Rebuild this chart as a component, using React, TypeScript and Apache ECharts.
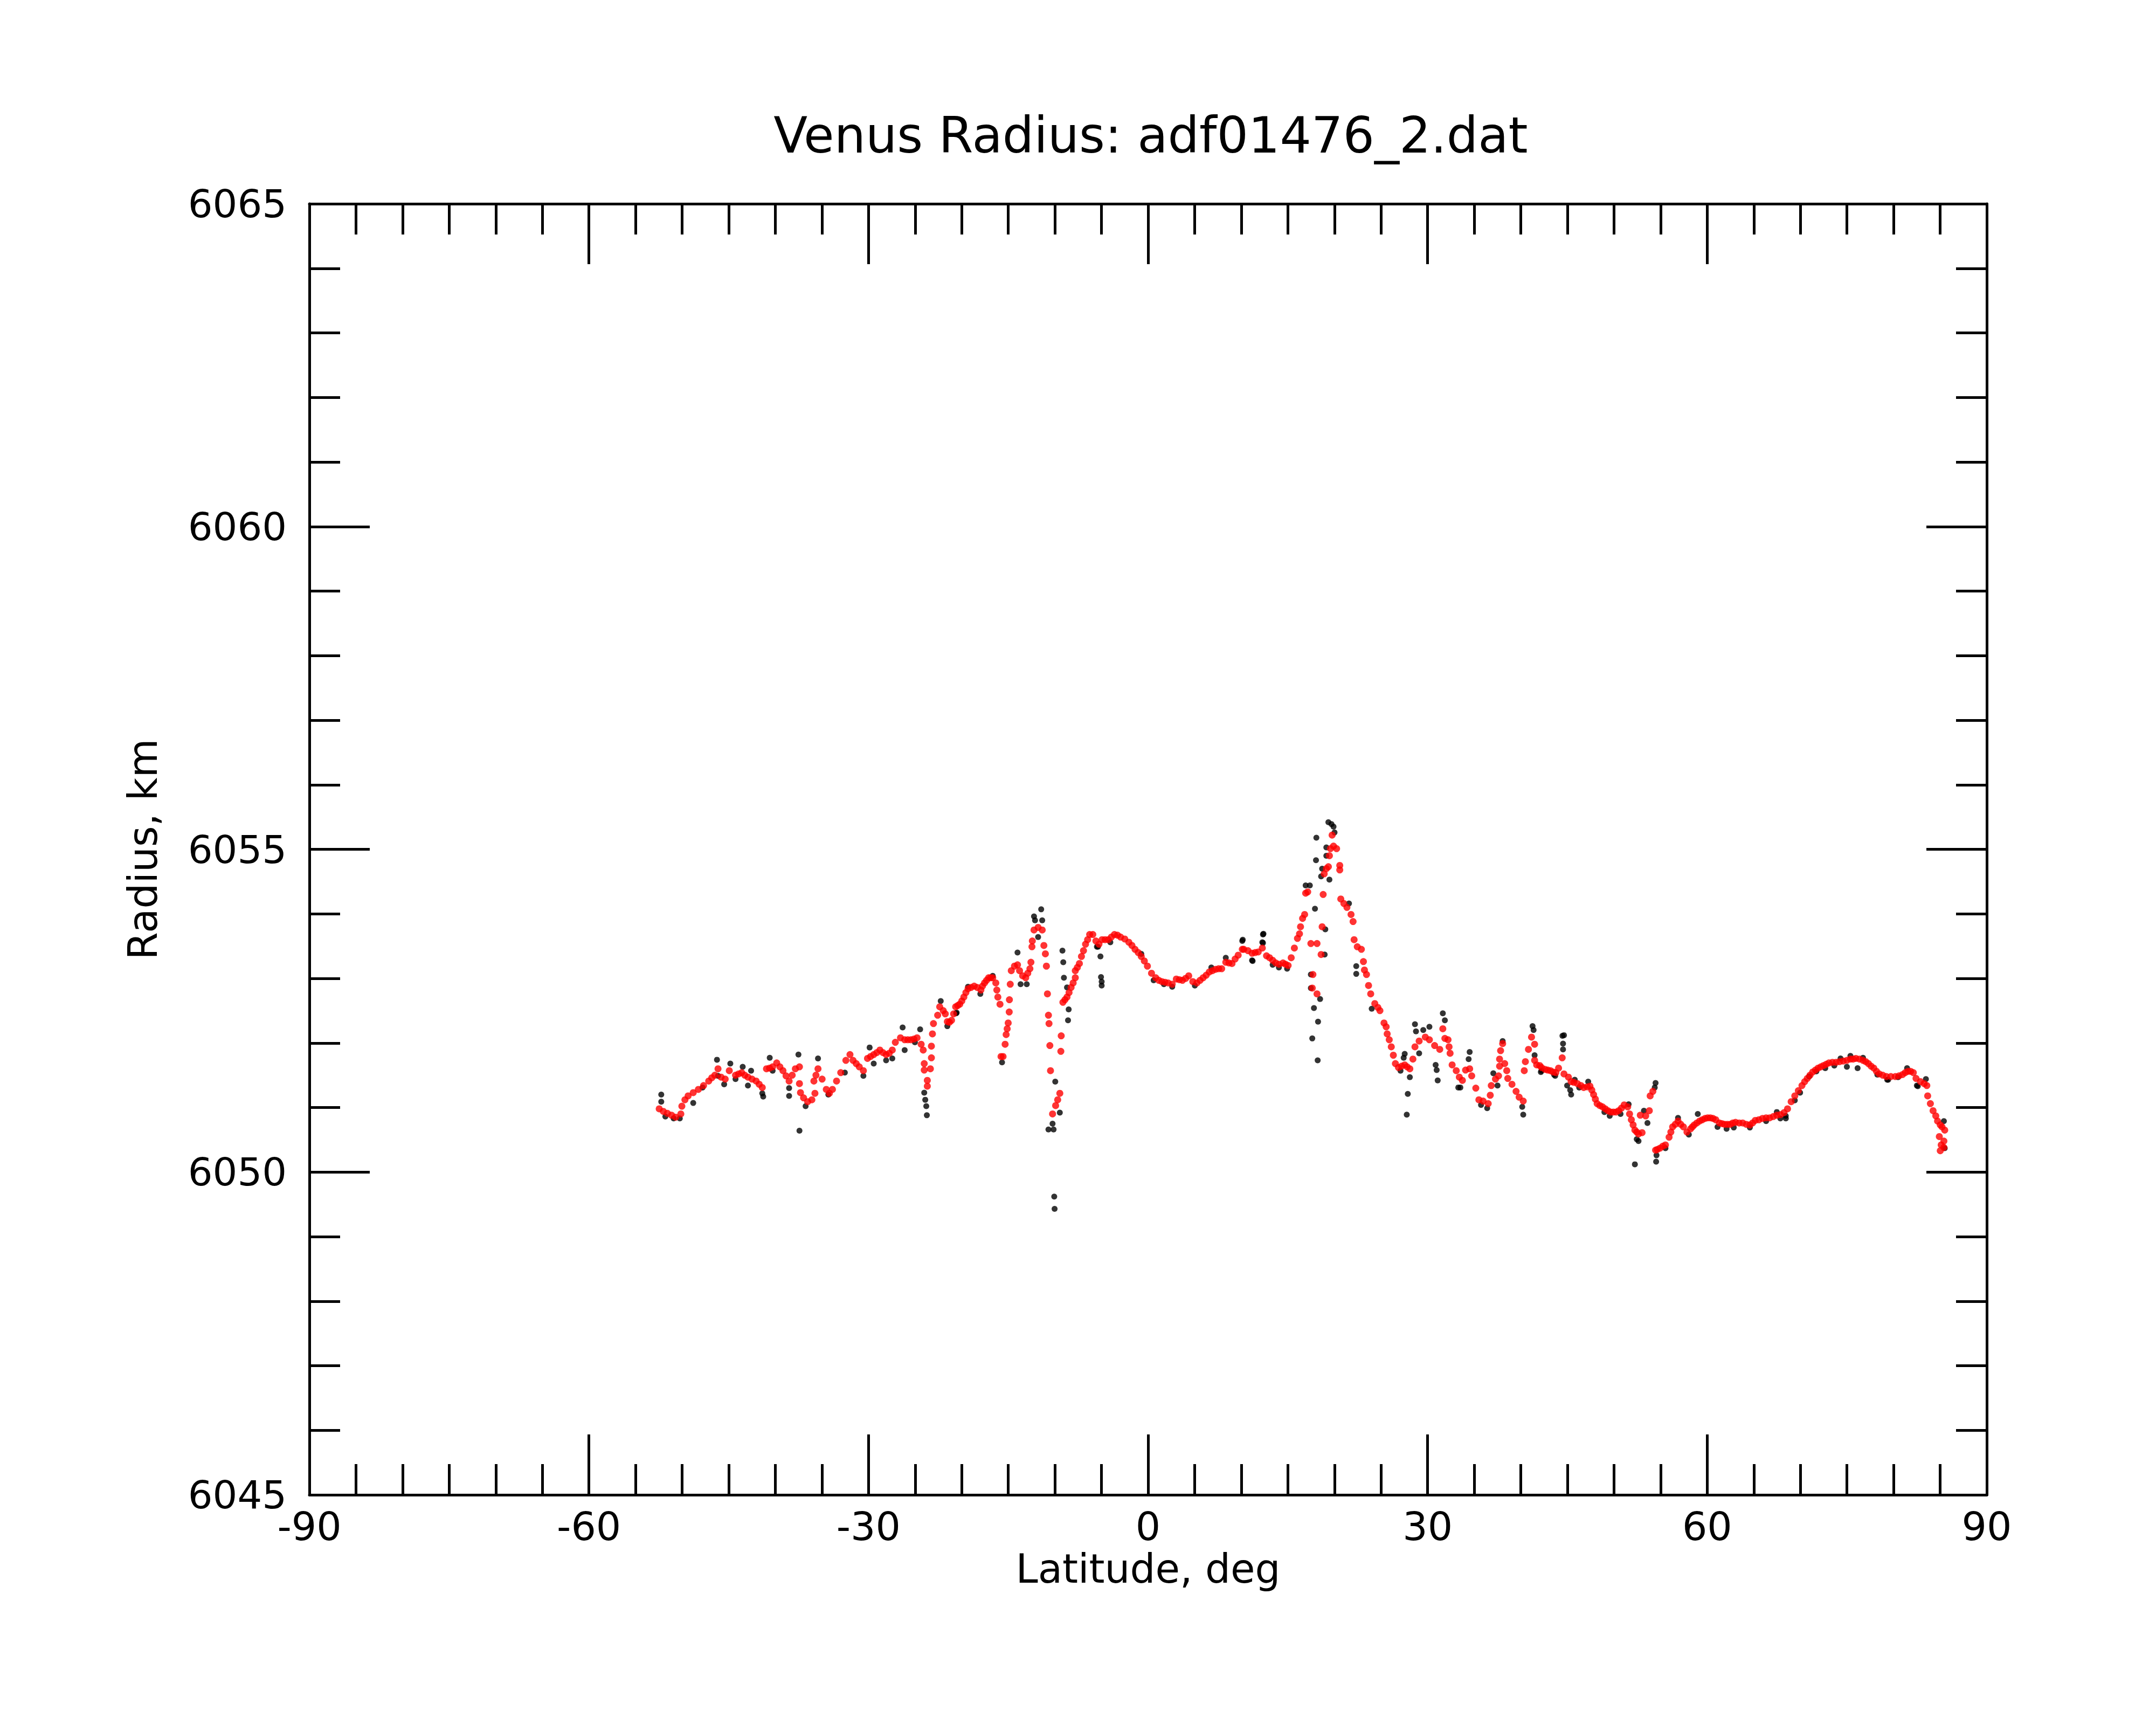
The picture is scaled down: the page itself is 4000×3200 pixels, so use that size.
import React, { useEffect, useRef } from "react";
import * as echarts from "echarts";

// Red (corrected) radius samples: latitude (deg) and radius (km)
const redLat = [
  -52.46, -52.02, -51.58, -51.13, -50.69, -50.14, -50.03, -49.7, -49.36, -48.81, -48.26, -47.7, -47.15, -46.82,
  -46.49, -46.15, -45.82, -45.38, -44.94, -44.27, -43.94, -43.61, -43.28, -42.94, -42.5, -42.06, -41.73, -41.4,
  -40.95, -40.62, -40.29, -39.85, -39.51, -39.18, -38.85, -38.52, -38.19, -37.85, -37.41, -37.41, -37.3, -36.97,
  -36.53, -36.08, -35.86, -35.75, -35.64, -35.42, -34.98, -34.53, -34.2, -33.87, -33.43, -32.98, -32.43, -31.99,
  -31.66, -31.32, -30.99, -30.55, -30.11, -29.78, -29.44, -29.11, -28.78, -28.45, -28.11, -27.78, -27.45, -27.12,
  -26.57, -26.12, -25.79, -25.46, -25.13, -24.79, -24.35, -24.13, -24.02, -24.02, -23.69, -23.69, -23.36, -23.25,
  -23.25, -23.14, -23.03, -22.58, -22.36, -21.98, -21.76, -21.54, -21.32, -21.09, -20.87, -20.65, -20.43, -20.21,
  -19.99, -19.77, -19.55, -19.32, -19.0, -18.66, -18.33, -17.94, -17.77, -17.55, -17.33, -17.11, -16.89, -16.67,
  -16.34, -16.23, -16.12, -15.89, -15.78, -15.56, -15.34, -15.23, -15.12, -15.01, -14.9, -14.88, -14.79, -14.68,
  -14.34, -14.01, -13.79, -13.46, -13.13, -12.91, -12.68, -12.57, -12.46, -12.42, -12.24, -11.8, -11.36, -11.18,
  -11.02, -10.91, -10.8, -10.69, -10.63, -10.54, -10.47, -10.25, -9.92, -9.7, -9.47, -9.36, -9.32, -9.14,
  -8.92, -8.7, -8.48, -8.26, -8.04, -7.81, -7.81, -7.59, -7.37, -7.15, -6.93, -6.71, -6.49, -6.27,
  -5.93, -5.6, -5.27, -4.94, -4.61, -4.27, -3.94, -3.61, -3.28, -2.95, -2.5, -2.06, -1.73, -1.4,
  -1.06, -0.73, -0.4, -0.07, 0.37, 0.82, 1.15, 1.48, 1.82, 2.15, 2.59, 3.03, 3.36, 3.69,
  4.03, 4.36, 4.8, 5.24, 5.58, 5.91, 6.24, 6.57, 6.9, 7.24, 7.57, 7.9, 8.34, 8.68,
  9.01, 9.34, 9.67, 10.11, 10.27, 10.72, 11.16, 11.49, 11.82, 12.26, 12.71, 13.04, 13.37, 13.7,
  14.04, 14.48, 14.74, 15.03, 15.36, 15.7, 16.03, 16.25, 16.36, 16.58, 16.8, 16.91, 17.13, 17.47,
  17.62, 17.69, 18.13, 18.13, 18.57, 18.68, 18.79, 18.9, 19.13, 19.35, 19.46, 19.57, 19.75, 19.9,
  20.23, 20.57, 20.57, 20.68, 21.01, 21.34, 21.78, 22.0, 22.11, 22.45, 22.89, 23.11, 23.22, 23.44,
  23.66, 23.89, 24.33, 24.66, 24.88, 25.32, 25.55, 25.66, 25.88, 26.1, 26.32, 26.54, 26.87, 27.21,
  27.54, 27.8, 28.09, 28.42, 28.64, 29.09, 29.75, 30.19, 30.75, 31.3, 31.63, 31.85, 32.19, 32.3,
  32.41, 32.63, 33.07, 33.4, 33.73, 34.07, 34.51, 34.73, 35.17, 35.5, 35.95, 36.5, 36.72, 36.83,
  37.28, 37.61, 37.72, 37.72, 37.83, 38.05, 38.27, 38.49, 38.6, 39.05, 39.49, 39.82, 40.26, 40.37,
  40.49, 40.82, 41.15, 41.48, 41.48, 41.7, 42.03, 42.22, 42.6, 42.89, 43.18, 43.47, 43.76, 44.05,
  44.44, 44.63, 45.11, 45.4, 45.69, 46.07, 46.46, 46.75, 47.13, 47.42, 47.62, 47.81, 48.0, 48.19,
  48.48, 48.77, 49.06, 49.35, 49.64, 49.93, 50.22, 50.51, 50.8, 51.09, 51.47, 51.67, 51.86, 52.05,
  52.24, 52.44, 52.63, 52.82, 53.01, 53.4, 53.79, 53.88, 54.17, 54.46, 54.65, 54.94, 55.23, 55.52,
  55.91, 56.1, 56.29, 56.58, 56.87, 57.16, 57.45, 57.83, 58.22, 58.41, 58.61, 58.89, 59.18, 59.47,
  59.76, 60.05, 60.34, 60.63, 60.92, 61.31, 61.59, 61.88, 62.17, 62.46, 62.75, 63.04, 63.43, 63.81,
  64.2, 64.58, 64.87, 65.16, 65.55, 65.93, 66.32, 66.7, 67.09, 67.47, 67.86, 68.24, 68.62, 69.01,
  69.4, 69.78, 70.17, 70.46, 70.74, 71.03, 71.32, 71.61, 71.9, 72.19, 72.48, 72.77, 73.06, 73.44,
  73.83, 74.21, 74.6, 74.99, 75.37, 75.66, 75.95, 76.34, 76.72, 77.01, 77.3, 77.59, 77.88, 78.17,
  78.46, 78.84, 79.23, 79.71, 80.19, 80.58, 80.96, 81.25, 81.54, 81.83, 82.12, 82.41, 82.89, 83.28,
  83.57, 83.66, 83.95, 84.24, 84.53, 84.72, 84.91, 85.01, 85.01, 85.11, 85.2, 85.4, 85.4, 85.49,
];
const redRadius = [
  6050.98, 6050.94, 6050.91, 6050.88, 6050.85, 6050.9, 6051.02, 6051.12, 6051.18, 6051.23, 6051.28, 6051.34, 6051.41, 6051.46,
  6051.5, 6051.6, 6051.47, 6051.44, 6051.57, 6051.5, 6051.52, 6051.54, 6051.5, 6051.47, 6051.44, 6051.41, 6051.36, 6051.31,
  6051.6, 6051.61, 6051.63, 6051.69, 6051.63, 6051.57, 6051.49, 6051.41, 6051.5, 6051.6, 6051.63, 6051.37, 6051.23, 6051.15,
  6051.09, 6051.12, 6051.41, 6051.22, 6051.5, 6051.6, 6051.44, 6051.28, 6051.22, 6051.28, 6051.41, 6051.54, 6051.73, 6051.82,
  6051.73, 6051.68, 6051.63, 6051.57, 6051.76, 6051.79, 6051.82, 6051.85, 6051.89, 6051.85, 6051.82, 6051.84, 6051.89, 6052.01,
  6052.08, 6052.05, 6052.05, 6052.05, 6052.06, 6052.08, 6051.98, 6051.89, 6051.68, 6051.58, 6051.42, 6051.33, 6051.6, 6051.77,
  6051.95, 6052.14, 6052.3, 6052.43, 6052.56, 6052.5, 6052.45, 6052.33, 6052.32, 6052.35, 6052.45, 6052.56, 6052.58, 6052.6,
  6052.65, 6052.71, 6052.78, 6052.84, 6052.86, 6052.88, 6052.86, 6052.82, 6052.88, 6052.93, 6052.97, 6053.01, 6053.01, 6053.01,
  6052.93, 6052.82, 6052.71, 6052.6, 6051.79, 6051.79, 6051.98, 6052.13, 6052.22, 6052.31, 6052.48, 6052.67, 6052.91, 6053.12,
  6053.19, 6053.21, 6053.12, 6053.04, 6053.01, 6053.08, 6053.15, 6053.25, 6053.49, 6053.58, 6053.75, 6053.79, 6053.75, 6053.51,
  6053.38, 6053.19, 6052.76, 6052.43, 6052.3, 6051.96, 6051.57, 6050.9, 6051.03, 6051.12, 6051.22, 6051.87, 6052.11, 6052.63,
  6052.67, 6052.71, 6052.78, 6052.86, 6052.93, 6053.01, 6053.12, 6053.17, 6053.23, 6053.34, 6053.43, 6053.53, 6053.6, 6053.68,
  6053.68, 6053.58, 6053.53, 6053.6, 6053.6, 6053.6, 6053.64, 6053.68, 6053.67, 6053.64, 6053.61, 6053.56, 6053.51, 6053.45,
  6053.4, 6053.34, 6053.27, 6053.19, 6053.08, 6053.01, 6052.97, 6052.95, 6052.94, 6052.93, 6052.91, 6052.99, 6052.98, 6052.97,
  6053.0, 6053.04, 6052.95, 6052.93, 6052.97, 6053.01, 6053.05, 6053.1, 6053.12, 6053.14, 6053.15, 6053.15, 6053.25, 6053.24,
  6053.23, 6053.3, 6053.36, 6053.45, 6053.45, 6053.43, 6053.39, 6053.4, 6053.41, 6053.47, 6053.35, 6053.32, 6053.28, 6053.24,
  6053.22, 6053.24, 6053.22, 6053.2, 6053.32, 6053.47, 6053.62, 6053.69, 6053.8, 6053.93, 6053.99, 6054.32, 6054.34, 6053.54,
  6052.85, 6053.06, 6053.54, 6052.76, 6053.37, 6053.8, 6054.3, 6054.62, 6054.7, 6054.73, 6054.9, 6055.01, 6055.22, 6055.05,
  6055.01, 6054.75, 6054.68, 6054.23, 6054.16, 6054.1, 6053.99, 6053.88, 6053.6, 6053.49, 6053.45, 6053.26, 6053.13, 6053.06,
  6052.89, 6052.76, 6052.61, 6052.55, 6052.5, 6052.31, 6052.25, 6052.14, 6052.05, 6051.94, 6051.81, 6051.68, 6051.62, 6051.64,
  6051.66, 6051.63, 6051.6, 6051.75, 6051.94, 6052.03, 6052.09, 6052.05, 6051.96, 6051.9, 6052.22, 6052.07, 6052.05, 6051.94,
  6051.84, 6051.66, 6051.57, 6051.47, 6051.42, 6051.58, 6051.6, 6051.49, 6051.3, 6051.12, 6051.1, 6051.06, 6051.19, 6051.34,
  6051.44, 6051.49, 6051.64, 6051.75, 6051.88, 6051.99, 6051.68, 6051.57, 6051.45, 6051.36, 6051.25, 6051.16, 6051.1, 6051.57,
  6051.71, 6051.9, 6052.09, 6051.98, 6051.73, 6051.66, 6051.65, 6051.62, 6051.59, 6051.58, 6051.57, 6051.55, 6051.54, 6051.61,
  6051.77, 6051.52, 6051.47, 6051.4, 6051.39, 6051.37, 6051.34, 6051.31, 6051.32, 6051.33, 6051.27, 6051.2, 6051.13, 6051.06,
  6051.03, 6051.01, 6050.98, 6050.95, 6050.93, 6050.93, 6050.93, 6050.95, 6050.99, 6051.04, 6051.01, 6050.9, 6050.81, 6050.73,
  6050.65, 6050.62, 6050.59, 6050.88, 6050.61, 6050.87, 6050.95, 6051.18, 6051.25, 6050.34, 6050.35, 6050.37, 6050.4, 6050.42,
  6050.54, 6050.62, 6050.7, 6050.74, 6050.79, 6050.74, 6050.7, 6050.62, 6050.67, 6050.7, 6050.73, 6050.76, 6050.79, 6050.81,
  6050.83, 6050.84, 6050.84, 6050.83, 6050.81, 6050.76, 6050.75, 6050.74, 6050.74, 6050.74, 6050.76, 6050.77, 6050.76, 6050.76,
  6050.74, 6050.73, 6050.76, 6050.8, 6050.81, 6050.83, 6050.84, 6050.84, 6050.86, 6050.88, 6050.89, 6050.92, 6050.98, 6051.09,
  6051.18, 6051.26, 6051.34, 6051.4, 6051.45, 6051.5, 6051.55, 6051.58, 6051.61, 6051.63, 6051.65, 6051.67, 6051.69, 6051.7,
  6051.7, 6051.71, 6051.72, 6051.73, 6051.75, 6051.75, 6051.76, 6051.75, 6051.73, 6051.71, 6051.68, 6051.64, 6051.61, 6051.56,
  6051.52, 6051.5, 6051.48, 6051.48, 6051.48, 6051.49, 6051.51, 6051.54, 6051.56, 6051.56, 6051.54, 6051.45, 6051.4, 6051.37,
  6051.34, 6051.18, 6051.06, 6050.95, 6050.87, 6050.79, 6050.55, 6050.73, 6050.33, 6050.42, 6050.7, 6050.48, 6050.38, 6050.65,
];

// Black (raw) radius samples
const blackLat = [
  -52.24, -52.24, -51.8, -50.91, -50.25, -48.81, -47.81, -46.26, -46.15, -45.49, -44.83, -44.27, -43.5, -42.94,
  -42.6, -41.4, -41.3, -40.6, -40.29, -38.52, -38.52, -37.52, -37.41, -36.75, -35.42, -34.31, -32.54, -30.55,
  -29.88, -29.44, -28.11, -27.45, -26.34, -26.12, -25.02, -24.46, -24.02, -23.91, -23.8, -23.74, -22.25, -21.54,
  -20.59, -20.54, -19.32, -18.0, -16.67, -15.67, -14.01, -13.68, -13.02, -12.24, -12.13, -11.8, -11.47, -11.36,
  -10.69, -10.25, -10.14, -10.07, -10.03, -9.96, -9.47, -9.19, -9.1, -9.03, -8.7, -8.59, -8.52, -5.49,
  -5.38, -5.11, -5.05, -4.98, -4.98, -4.05, -0.73, 0.6, 1.7, 2.59, 5.02, 6.79, 8.34, 10.11,
  10.16, 11.16, 11.22, 12.26, 12.33, 12.33, 12.38, 13.37, 14.04, 14.92, 16.91, 17.36, 17.47, 17.47,
  17.62, 17.8, 17.91, 18.02, 18.06, 18.2, 18.24, 18.46, 18.57, 18.68, 18.95, 19.02, 19.13, 19.13,
  19.35, 19.46, 19.68, 19.9, 20.01, 21.56, 22.34, 22.34, 24.0, 27.09, 27.43, 27.54, 27.76, 27.87,
  28.09, 28.64, 28.75, 29.09, 29.53, 30.19, 30.86, 30.97, 31.08, 31.63, 31.85, 33.29, 33.51, 34.4,
  34.51, 35.73, 36.39, 37.05, 37.5, 38.05, 40.15, 40.26, 41.26, 41.37, 41.48, 42.15, 42.22, 43.57,
  43.69, 44.47, 44.53, 44.53, 44.63, 44.97, 45.3, 45.4, 45.79, 46.27, 47.23, 48.97, 49.54, 50.7,
  51.57, 52.24, 52.44, 52.63, 53.21, 53.59, 54.37, 54.46, 54.52, 54.56, 55.52, 56.87, 58.03, 58.99,
  61.11, 62.08, 62.85, 64.58, 66.32, 67.47, 67.85, 68.43, 68.44, 69.4, 69.97, 70.94, 71.71, 72.67,
  73.64, 74.31, 74.99, 75.37, 76.14, 76.72, 78.26, 79.32, 79.42, 80.48, 81.45, 82.5, 82.6, 83.47,
  85.4, 85.49,
];
const blackRadius = [
  6051.2, 6051.09, 6050.86, 6050.83, 6050.83, 6051.07, 6051.31, 6051.74, 6051.49, 6051.36, 6051.68, 6051.44, 6051.63, 6051.34,
  6051.57, 6051.22, 6051.17, 6051.77, 6051.57, 6051.3, 6051.18, 6051.82, 6050.64, 6051.02, 6051.76, 6051.2, 6051.54, 6051.49,
  6051.93, 6051.68, 6051.73, 6051.76, 6052.24, 6051.89, 6052.01, 6052.21, 6051.23, 6051.12, 6051.02, 6050.88, 6052.65, 6052.26,
  6052.46, 6052.47, 6052.87, 6052.76, 6053.04, 6051.7, 6053.4, 6052.91, 6052.91, 6053.96, 6053.9, 6053.64, 6054.07, 6053.9,
  6050.66, 6050.75, 6050.66, 6049.62, 6049.43, 6051.4, 6050.92, 6053.43, 6053.25, 6053.01, 6052.86, 6052.35, 6052.52, 6053.49,
  6053.49, 6053.34, 6053.02, 6052.95, 6052.89, 6053.56, 6053.38, 6052.97, 6052.91, 6052.87, 6052.89, 6053.17, 6053.32, 6053.58,
  6053.6, 6053.28, 6053.27, 6053.56, 6053.68, 6053.55, 6053.69, 6053.21, 6053.17, 6053.15, 6054.44, 6054.44, 6053.06, 6052.85,
  6052.07, 6052.54, 6054.08, 6054.83, 6055.18, 6051.73, 6052.33, 6052.68, 6054.58, 6054.7, 6053.37, 6053.76, 6055.03, 6054.9,
  6055.42, 6054.53, 6055.39, 6055.35, 6055.26, 6054.16, 6053.19, 6053.07, 6052.53, 6051.57, 6051.77, 6051.83, 6050.89, 6051.21,
  6051.47, 6052.29, 6052.18, 6051.84, 6052.2, 6052.25, 6051.66, 6051.58, 6051.42, 6052.46, 6052.35, 6051.31, 6051.31, 6051.75,
  6051.86, 6051.04, 6050.99, 6051.53, 6051.34, 6052.03, 6051.01, 6050.89, 6052.26, 6052.2, 6051.81, 6051.55, 6051.57, 6051.51,
  6051.49, 6052.11, 6051.99, 6051.9, 6052.12, 6051.34, 6051.27, 6051.2, 6051.43, 6051.31, 6051.4, 6050.93, 6050.87, 6050.9,
  6051.05, 6050.12, 6050.51, 6050.48, 6050.95, 6050.76, 6051.31, 6051.38, 6050.16, 6050.26, 6050.37, 6050.84, 6050.58, 6050.9,
  6050.7, 6050.67, 6050.69, 6050.69, 6050.79, 6050.93, 6050.83, 6050.87, 6050.83, 6051.11, 6051.23, 6051.48, 6051.56, 6051.61,
  6051.65, 6051.76, 6051.63, 6051.8, 6051.61, 6051.77, 6051.51, 6051.43, 6051.43, 6051.47, 6051.61, 6051.34, 6051.33, 6051.44,
  6050.79, 6050.37,
];

const xTicks = [-90, -60, -30, 0, 30, 60, 90];
const yTicks = [6045, 6050, 6055, 6060, 6065];

const FONT = "DejaVu Sans";

export default function App() {
  const ref = useRef<HTMLDivElement>(null);

  useEffect(() => {
    document.body.style.margin = "0";
    if (!ref.current) return;
    const chart = echarts.init(ref.current, undefined, { renderer: "svg" });

    const lineStyle = { color: "#000", width: 5 };
    const tickCommon = {
      show: true,
      inside: true,
      length: 112,
      lineStyle,
    };
    const xBase = {
      type: "value" as const,
      min: xTicks[0],
      max: xTicks[xTicks.length - 1],
      interval: 30,
      splitLine: { show: false },
      axisLine: { show: true, onZero: false, lineStyle },
      axisTick: tickCommon,
      minorTick: { show: true, splitNumber: 6, length: 57, lineStyle },
    };
    const yBase = {
      type: "value" as const,
      min: yTicks[0],
      max: yTicks[yTicks.length - 1],
      interval: 5,
      splitLine: { show: false },
      axisLine: { show: true, onZero: false, lineStyle },
      axisTick: tickCommon,
      minorTick: { show: true, splitNumber: 5, length: 57, lineStyle },
    };

    const blackData = blackLat.map((v, i) => [v, blackRadius[i]]);
    const redData = redLat.map((v, i) => [v, redRadius[i]]);

    chart.setOption({
      animation: false,
      backgroundColor: "#fff",
      title: {
        text: "Venus Radius: adf01476_2.dat",
        left: 2130,
        top: 200,
        textAlign: "center",
        textStyle: { fontFamily: FONT, fontSize: 92, fontWeight: "normal", color: "#000" },
      },
      grid: { left: 574, right: 314, top: 378, bottom: 427, containLabel: false },
      xAxis: [
        {
          ...xBase,
          position: "bottom",
          name: "Latitude, deg",
          nameLocation: "middle",
          nameGap: 95,
          nameTextStyle: { fontFamily: FONT, fontSize: 74, color: "#000" },
          axisLabel: {
            show: true,
            margin: 22,
            fontFamily: FONT,
            fontSize: 73,
            color: "#000",
            formatter: (v: number) => String(v),
          },
        },
        { ...xBase, position: "top", axisLabel: { show: false } },
      ],
      yAxis: [
        {
          ...yBase,
          position: "left",
          name: "Radius, km",
          nameLocation: "middle",
          nameGap: 272,
          nameTextStyle: { fontFamily: FONT, fontSize: 74, color: "#000" },
          axisLabel: {
            show: true,
            margin: 42,
            fontFamily: FONT,
            fontSize: 72,
            color: "#000",
            formatter: (v: number) => String(v),
          },
        },
        { ...yBase, position: "right", axisLabel: { show: false } },
      ],
      series: [
        {
          type: "scatter",
          name: "raw",
          xAxisIndex: 0,
          yAxisIndex: 0,
          data: blackData,
          symbol: "circle",
          symbolSize: 11,
          itemStyle: { color: "#000" },
          silent: true,
        },
        {
          type: "scatter",
          name: "corrected",
          xAxisIndex: 0,
          yAxisIndex: 0,
          data: redData,
          symbol: "circle",
          symbolSize: 13,
          itemStyle: { color: "#ff0000" },
          silent: true,
        },
      ],
    });

    return () => {
      chart.dispose();
    };
  }, []);

  return <div ref={ref} style={{ width: 4000, height: 3200 }} />;
}
